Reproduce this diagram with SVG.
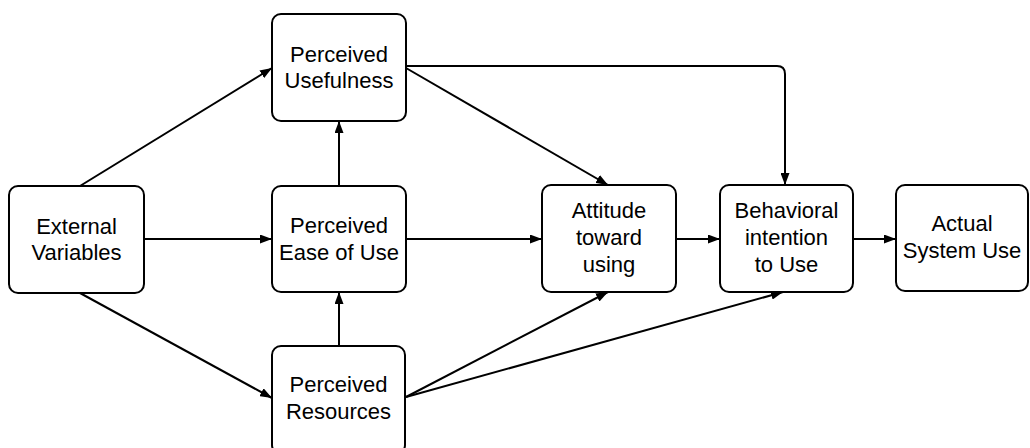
<svg xmlns="http://www.w3.org/2000/svg" width="1030" height="448" viewBox="0 0 1030 448">
  <style>
    .box { fill: #ffffff; stroke: #000000; stroke-width: 2; }
    .lbl { font-family: "Liberation Sans", Arial, sans-serif; font-size: 22px; fill: #000000; text-anchor: middle; }
    .edge { fill: none; stroke: #000000; stroke-width: 2; marker-end: url(#arrow); }
  </style>
  <defs>
    <marker id="arrow" markerUnits="userSpaceOnUse" markerWidth="12" markerHeight="9" refX="12" refY="4.5" orient="auto">
      <path d="M0,0 L12,4.5 L0,9 z" fill="#000000"/>
    </marker>
  </defs>
  <rect width="1030" height="448" fill="#ffffff"/>

  <g id="connectors">
    <line class="edge" x1="80" y1="186" x2="272" y2="68"/>
    <line class="edge" x1="144" y1="239" x2="272" y2="239"/>
    <line class="edge" x1="80" y1="293" x2="272" y2="398"/>
    <line class="edge" x1="339" y1="186" x2="339" y2="121"/>
    <line class="edge" x1="339" y1="346" x2="339" y2="292"/>
    <path class="edge" d="M406,66 H777 Q785,66 785,74 V185"/>
    <line class="edge" x1="406" y1="68" x2="608" y2="185"/>
    <line class="edge" x1="406" y1="239" x2="542" y2="239"/>
    <line class="edge" x1="676" y1="239" x2="720" y2="239"/>
    <line class="edge" x1="853" y1="239" x2="896" y2="239"/>
    <line class="edge" x1="406" y1="397" x2="608" y2="292"/>
    <line class="edge" x1="406" y1="397" x2="783" y2="292"/>
  </g>

  <g id="external-variables">
    <rect class="box" x="9" y="186" width="135" height="107" rx="9"/>
    <text class="lbl" x="76.5" y="234">External</text>
    <text class="lbl" x="76.5" y="260">Variables</text>
  </g>

  <g id="perceived-usefulness">
    <rect class="box" x="272" y="14" width="134" height="107" rx="9"/>
    <text class="lbl" x="339" y="62">Perceived</text>
    <text class="lbl" x="339" y="88">Usefulness</text>
  </g>

  <g id="perceived-ease-of-use">
    <rect class="box" x="272" y="186" width="134" height="106" rx="9"/>
    <text class="lbl" x="339" y="233">Perceived</text>
    <text class="lbl" x="339" y="260">Ease of Use</text>
  </g>

  <g id="perceived-resources">
    <rect class="box" x="272" y="346" width="133" height="108" rx="9"/>
    <text class="lbl" x="338.5" y="392">Perceived</text>
    <text class="lbl" x="338.5" y="419">Resources</text>
  </g>

  <g id="attitude-toward-using">
    <rect class="box" x="542" y="185" width="134" height="107" rx="9"/>
    <text class="lbl" x="609" y="218">Attitude</text>
    <text class="lbl" x="609" y="245">toward</text>
    <text class="lbl" x="609" y="272">using</text>
  </g>

  <g id="behavioral-intention">
    <rect class="box" x="720" y="185" width="133" height="107" rx="9"/>
    <text class="lbl" x="786.5" y="218">Behavioral</text>
    <text class="lbl" x="786.5" y="245">intention</text>
    <text class="lbl" x="786.5" y="272">to Use</text>
  </g>

  <g id="actual-system-use">
    <rect class="box" x="896" y="185" width="132" height="106" rx="9"/>
    <text class="lbl" x="962" y="231">Actual</text>
    <text class="lbl" x="962" y="258">System Use</text>
  </g>
</svg>
